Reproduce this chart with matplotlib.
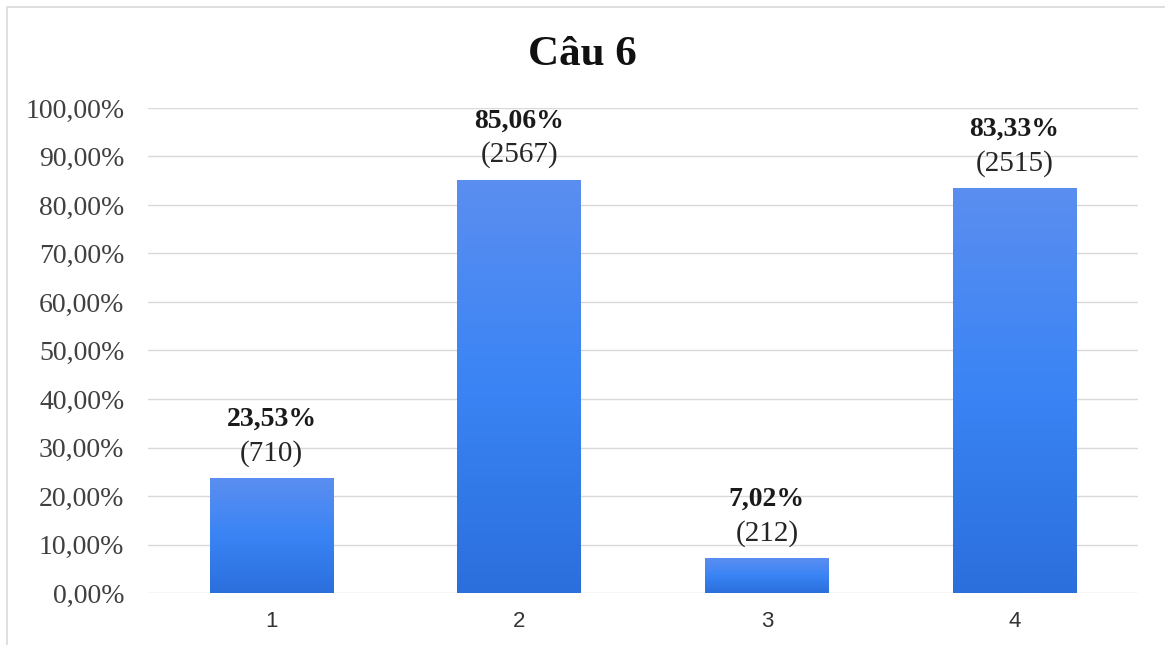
import numpy as np
import matplotlib.pyplot as plt
from matplotlib.colors import LinearSegmentedColormap
from matplotlib.patches import Rectangle

# Dữ liệu câu 6
categories = ['1', '2', '3', '4']
percents = [23.53, 85.06, 7.02, 83.33]
counts = [710, 2567, 212, 2515]

serif = ['Liberation Serif', 'DejaVu Serif']
sans = ['Liberation Sans', 'DejaVu Sans']

fig = plt.figure(figsize=(11.65, 6.45), dpi=100)
ax = fig.add_axes([0.127, 0.0806, 0.85, 0.752])

# khung viền nhạt quanh biểu đồ
fig.patches.append(Rectangle((7 / 1165, -0.01), 1.02, 1 - 7 / 645 + 0.01,
                             transform=fig.transFigure, fill=False,
                             edgecolor='#d9d9d9', linewidth=1.2))

x = np.arange(1, len(categories) + 1)
bars = ax.bar(x, percents, width=0.5, color='none', edgecolor='none', zorder=3)

# tô gradient cho từng cột (sáng ở trên, đậm ở dưới)
cmap = LinearSegmentedColormap.from_list('xanh', ['#2b6fdc', '#3a84f5', '#5b8ef0'])
grad = np.linspace(0, 1, 256).reshape(-1, 1)
for b in bars:
    x0, w, h = b.get_x(), b.get_width(), b.get_height()
    ax.imshow(grad, cmap=cmap, origin='lower', aspect='auto',
              extent=(x0, x0 + w, 0, h), zorder=3)

for xi, p, c in zip(x, percents, counts):
    pl = f'{p:.2f}%'.replace('.', ',')
    ax.annotate(f'({c})', (xi, p), xytext=(0, 18.5), textcoords='offset points',
                ha='center', va='center', fontsize=21, family=serif, color='#262626')
    ax.annotate(pl, (xi, p), xytext=(0, 43), textcoords='offset points',
                ha='center', va='center', fontsize=20, family=serif,
                fontweight='bold', color='#1a1a1a')

ax.set_xlim(0.5, 4.5)
ax.set_ylim(0, 100)
ax.set_yticks(np.arange(0, 101, 10))
ax.set_yticklabels([f'{v:.2f}%'.replace('.', ',') for v in np.arange(0, 101, 10)],
                   family=serif, fontsize=20, color='#404040')
ax.set_xticks(x)
ax.set_xticklabels(categories, family=sans, fontsize=16, color='#333333')
ax.tick_params(length=0)
ax.tick_params(axis='y', pad=17)
ax.tick_params(axis='x', pad=13)
ax.grid(axis='y', color='#d9d9d9', linewidth=1, zorder=0)
ax.set_axisbelow(True)
for s in ax.spines.values():
    s.set_visible(False)

fig.text(0.5, 0.914, 'Câu 6', ha='center', va='center', fontsize=31,
         fontweight='bold', family=serif, color='#111111')

fig.savefig('out.png', dpi=100)
